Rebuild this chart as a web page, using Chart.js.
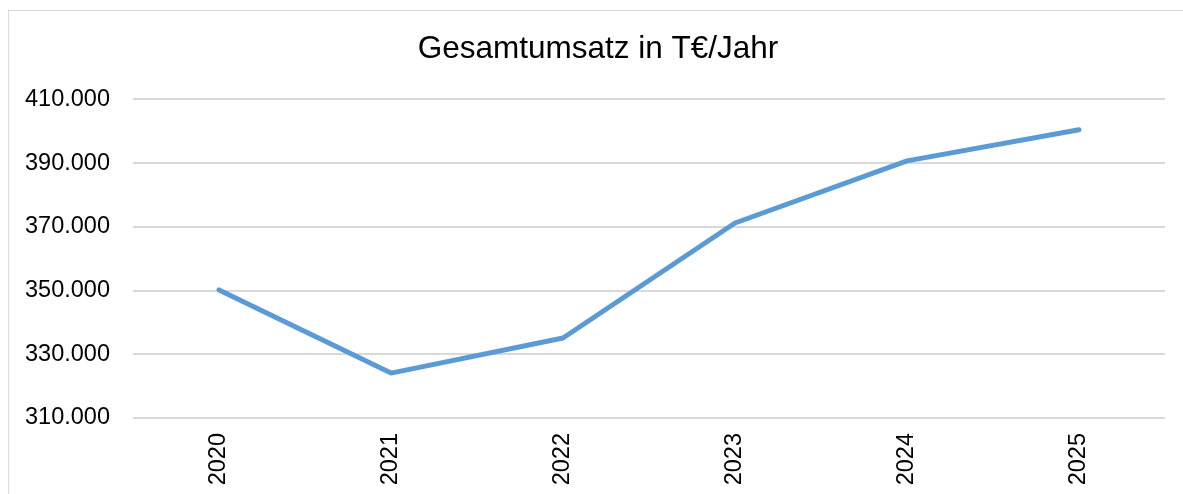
<!DOCTYPE html>
<html lang="de">
<head>
<meta charset="utf-8">
<title>Gesamtumsatz in T€/Jahr</title>
<script src="https://cdn.jsdelivr.net/npm/chart.js@4"></script>
<style>
  html, body { margin: 0; padding: 0; background: #fff; overflow: hidden; }
  #frame { position: absolute; left: 8px; top: 10px; width: 2000px; height: 2000px; border: 1.5px solid #d9d9d9; }
  #umsatzChart { position: absolute; left: 0; top: 0; }
</style>
</head>
<body>
<div id="frame"></div>
<canvas id="umsatzChart" width="1196" height="494"></canvas>
<script>
const YEARS = ['2020', '2021', '2022', '2023', '2024', '2025'];
const UMSATZ = [350200, 324100, 335100, 371200, 390700, 400500];
const Y_MIN = 310000, Y_MAX = 410000, Y_STEP = 20000;
const TITLE = 'Gesamtumsatz in T€/Jahr';

const FONT = "'Liberation Sans', Arial, sans-serif";
const fmt = v => String(v).replace(/\B(?=(\d{3})+(?!\d))/g, '.');

new Chart(document.getElementById('umsatzChart'), {
  type: 'line',
  data: {
    labels: YEARS,
    datasets: [{
      data: UMSATZ,
      borderColor: '#5b9bd5',
      borderWidth: 5,
      borderCapStyle: 'round',
      borderJoinStyle: 'round',
      pointRadius: 0,
      tension: 0,
      fill: false
    }]
  },
  options: {
    responsive: false,
    animation: false,
    layout: { padding: 0 },
    plugins: {
      legend: { display: false },
      tooltip: { enabled: false },
      title: {
        display: true, text: TITLE, color: '#000',
        font: { family: FONT, size: 31.5, weight: 'normal' },
        padding: { top: 30, bottom: 31.6 }
      }
    },
    scales: {
      x: {
        offset: true,
        grid: { display: false, drawTicks: false },
        border: { display: false },
        ticks: {
          color: '#000', font: { family: FONT, size: 23.5 },
          minRotation: 90, maxRotation: 90, padding: 15, autoSkip: false
        },
        afterFit: s => { s.height = 76; }
      },
      y: {
        min: Y_MIN, max: Y_MAX,
        grid: { color: '#d9d9d9', lineWidth: 2, drawTicks: false },
        border: { display: false },
        ticks: {
          stepSize: Y_STEP, color: '#000', padding: 23,
          font: { family: FONT, size: 23.5 },
          callback: v => fmt(v)
        },
        afterFit: s => { s.width = 133; }
      },
      // empty right margin so the title sits centred like the original
      yRight: {
        position: 'right', min: Y_MIN, max: Y_MAX,
        grid: { display: false, drawTicks: false },
        border: { display: false },
        ticks: { display: false },
        afterFit: s => { s.width = 31; }
      }
    }
  }
});
</script>
</body>
</html>
